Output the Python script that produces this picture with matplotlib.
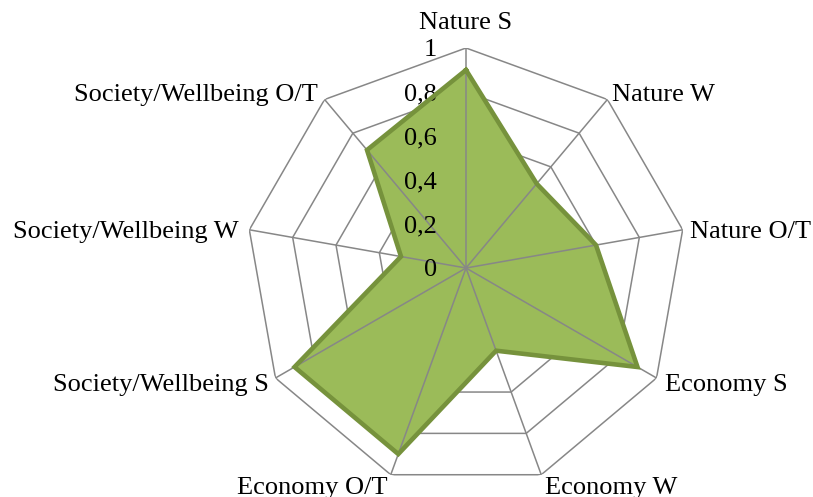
import numpy as np
import matplotlib
matplotlib.use("Agg")
import matplotlib.pyplot as plt

plt.rcParams["font.family"] = ["Liberation Serif", "DejaVu Serif"]

categories = ["Nature S", "Nature W", "Nature O/T", "Economy S", "Economy W",
              "Economy O/T", "Society/Wellbeing S", "Society/Wellbeing W",
              "Society/Wellbeing O/T"]
values = [0.9, 0.5, 0.6, 0.9, 0.4, 0.9, 0.9, 0.3, 0.7]
ring_values = [0.2, 0.4, 0.6, 0.8, 1.0]
ring_labels = ["0", "0,2", "0,4", "0,6", "0,8", "1"]

# label placement (alignment, pixel offset from the outer vertex)
label_pos = [
    ("center", "bottom", (0, 14)),
    ("left", "center", (5, 4)),
    ("left", "center", (7, -2)),
    ("left", "center", (8, -7)),
    ("left", "center", (4, -13)),
    ("right", "center", (-3, -13)),
    ("right", "center", (-7, -7)),
    ("right", "center", (-11, -2)),
    ("right", "center", (-7, 4)),
]

n = len(categories)
angles = np.arange(n) * 2 * np.pi / n
closed = np.append(angles, angles[0])

fig = plt.figure(figsize=(8.13, 4.97), dpi=100)
ax = fig.add_axes([246 / 813, 9 / 497, 440 / 813, 440 / 497], projection="polar")
ax.set_theta_offset(np.pi / 2)
ax.set_theta_direction(-1)
ax.set_ylim(0, 1)
ax.grid(False)
ax.spines["polar"].set_visible(False)
ax.set_xticks([])
ax.set_yticks([])
ax.patch.set_alpha(0)

grid_color = "#878787"
# rings sit under the filled area, spokes on top of it
for r in ring_values:
    ax.plot(closed, [r] * (n + 1), color=grid_color, lw=1.1, zorder=1)

vals_closed = np.append(values, values[0])
ax.fill(closed, vals_closed, color="#9BBB59", zorder=2)

for a in angles:
    ax.plot([a, a], [0, 1], color=grid_color, lw=1.1, zorder=3)

ax.plot(closed, vals_closed, color="#76923C", lw=3.3, zorder=4,
        solid_joinstyle="miter")

for i, lab in enumerate(ring_labels):
    ax.annotate(lab, xy=(0, i * 0.2), xytext=(-29, -2), textcoords="offset pixels",
                ha="right", va="center", fontsize=19, annotation_clip=False)

for a, cat, (ha, va, off) in zip(angles, categories, label_pos):
    ax.annotate(cat, xy=(a, 1.0), xytext=off, textcoords="offset pixels",
                ha=ha, va=va, fontsize=19, annotation_clip=False)

fig.savefig("out.png", dpi=100)
